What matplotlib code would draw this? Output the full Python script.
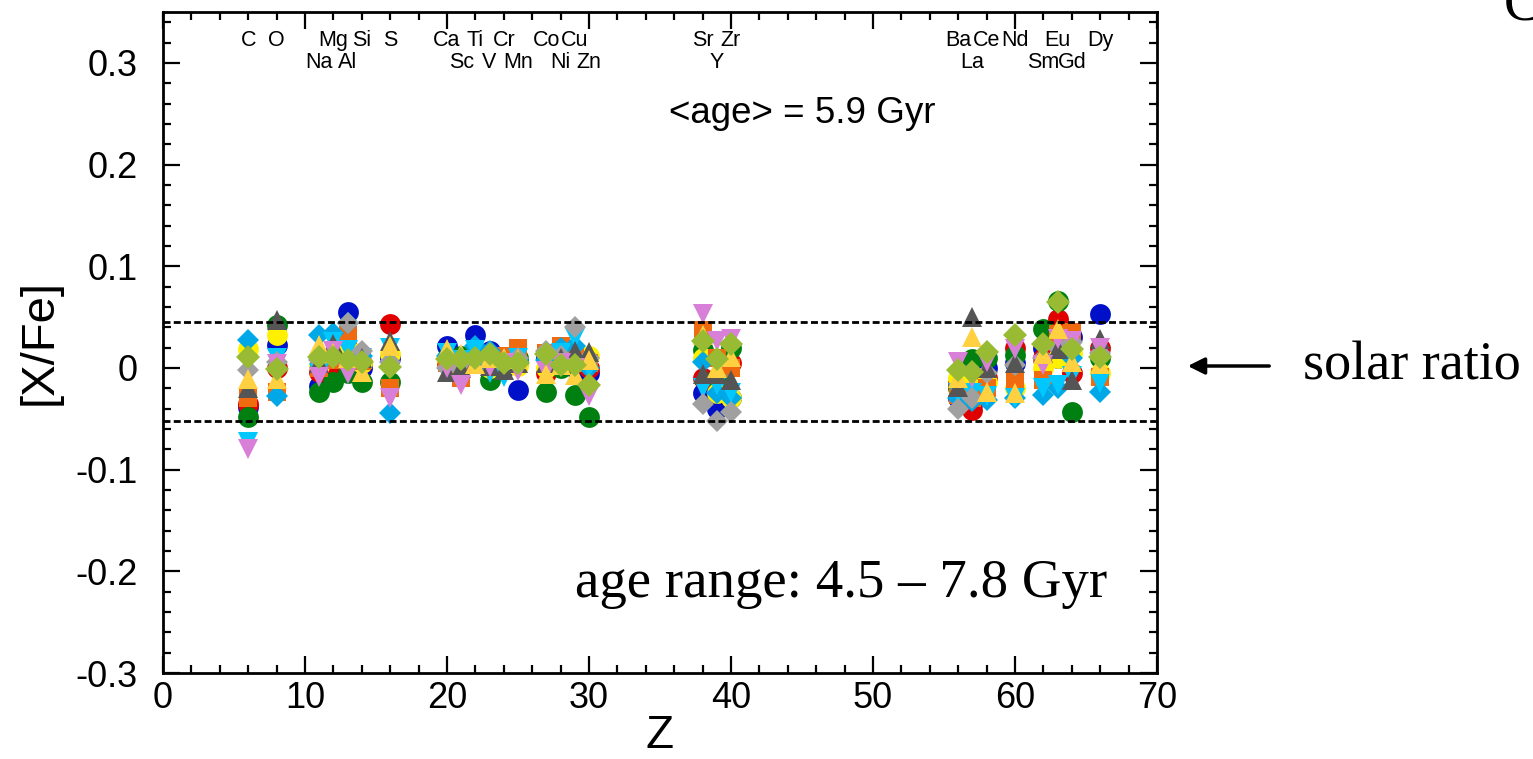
import numpy as np
import matplotlib
matplotlib.use("Agg")
import matplotlib.pyplot as plt
from matplotlib.ticker import MultipleLocator, FuncFormatter

plt.rcParams['font.family'] = ['Liberation Sans', 'DejaVu Sans']
plt.rcParams['axes.unicode_minus'] = False

# Elements and atomic numbers
elements = ['C', 'O', 'Na', 'Mg', 'Al', 'Si', 'S', 'Ca', 'Sc', 'Ti', 'V', 'Cr', 'Mn',
            'Co', 'Ni', 'Cu', 'Zn', 'Sr', 'Y', 'Zr', 'Ba', 'La', 'Ce', 'Nd', 'Sm',
            'Eu', 'Gd', 'Dy']
Z = [6, 8, 11, 12, 13, 14, 16, 20, 21, 22, 23, 24, 25,
     27, 28, 29, 30, 38, 39, 40, 56, 57, 58, 60, 62,
     63, 64, 66]
# labels that sit on the lower row
lower_row = ['Na', 'Al', 'Sc', 'V', 'Mn', 'Ni', 'Zn', 'Y', 'La', 'Sm', 'Gd']

# [X/Fe] per star, same order as elements
blue = [-0.038, 0.023, -0.018, 0.005, 0.055, 0.000, 0.010, 0.022, 0.010, 0.032, 0.017, 0.000, -0.022,
        0.010, 0.005, 0.000, -0.005, -0.025, -0.040, -0.030, -0.030, -0.035, 0.000, 0.005, 0.020,
        0.010, 0.030, 0.053]
red = [-0.035, 0.000, -0.004, 0.002, 0.015, 0.005, 0.043, 0.005, 0.000, 0.010, 0.005, 0.010, 0.005,
       -0.005, 0.010, 0.005, 0.000, -0.010, -0.020, 0.005, -0.015, -0.041, -0.010, 0.020, 0.010,
       0.048, -0.005, 0.020]
green = [-0.048, 0.042, -0.024, -0.014, -0.005, -0.014, -0.014, 0.010, 0.012, 0.015, -0.012, 0.005, 0.010,
         -0.024, 0.000, -0.027, -0.048, 0.018, -0.010, 0.020, -0.020, 0.009, 0.010, 0.013, 0.038,
         0.066, -0.043, 0.010]
yellow = [0.019, 0.032, 0.002, 0.010, 0.020, 0.005, 0.014, 0.008, 0.005, 0.012, 0.000, 0.008, 0.002,
          0.000, 0.008, 0.010, 0.012, 0.010, -0.025, -0.030, -0.010, -0.020, -0.014, -0.020, 0.000,
          0.010, 0.015, -0.005]
orange = [-0.030, -0.024, 0.000, 0.008, 0.032, 0.007, -0.020, 0.005, -0.010, 0.008, 0.010, 0.012, 0.020,
          0.015, 0.022, 0.012, 0.005, 0.037, 0.010, 0.000, -0.027, -0.030, -0.020, -0.012, -0.012,
          0.033, 0.035, -0.009]
sky = [0.027, -0.028, 0.032, 0.034, 0.044, 0.012, -0.044, 0.012, 0.005, 0.022, 0.017, 0.002, 0.008,
       0.008, 0.020, 0.022, 0.000, 0.006, -0.025, -0.030, -0.030, -0.033, -0.032, -0.030, -0.027,
       -0.020, 0.010, -0.024]
cyan = [-0.073, 0.010, -0.005, 0.025, 0.018, 0.010, 0.020, 0.015, 0.008, 0.018, -0.005, -0.009, 0.010,
        0.005, 0.015, 0.029, 0.000, -0.020, -0.017, -0.025, -0.025, -0.025, -0.028, -0.030, -0.020,
        -0.017, -0.008, -0.015]
gray = [-0.002, 0.006, 0.008, 0.012, 0.044, 0.017, 0.006, 0.000, 0.005, 0.010, 0.012, 0.003, 0.010,
        0.017, 0.012, 0.040, 0.010, -0.035, -0.052, -0.043, -0.040, -0.030, -0.005, 0.003, 0.010,
        0.020, 0.025, 0.015]
darkgray = [-0.020, 0.047, 0.005, 0.024, 0.010, 0.010, 0.026, -0.004, 0.000, 0.005, 0.002, -0.002, 0.005,
            0.005, 0.010, 0.017, 0.016, -0.006, -0.006, -0.012, -0.019, 0.050, 0.000, 0.005, 0.015,
            0.019, -0.012, 0.028]
violet = [-0.080, 0.004, -0.009, 0.017, -0.006, 0.000, -0.030, 0.000, -0.017, 0.005, 0.001, 0.005, -0.003,
          -0.003, 0.005, 0.000, -0.028, 0.053, 0.026, 0.028, 0.006, -0.010, 0.006, 0.019, 0.003,
          0.028, 0.026, 0.020]
gold = [-0.011, -0.011, 0.023, 0.015, 0.010, -0.004, 0.022, 0.019, 0.014, 0.004, 0.010, 0.010, 0.009,
        -0.006, 0.003, -0.007, 0.008, 0.032, 0.000, 0.011, -0.010, 0.030, -0.024, -0.025, 0.014,
        0.038, 0.006, 0.004]
olive = [0.011, -0.001, 0.011, 0.011, 0.008, 0.006, 0.001, 0.009, 0.009, 0.010, 0.014, 0.005, 0.005,
         0.014, 0.003, 0.003, -0.017, 0.026, 0.009, 0.024, -0.002, -0.004, 0.016, 0.032, 0.024,
         0.065, 0.019, 0.011]

upper_band = 0.045
lower_band = -0.052

# (values, marker, colour, size) in drawing order
stars = [
    (blue, 'o', '#0010c8', 15),
    (red, 'o', '#e00000', 15),
    (green, 'o', '#008010', 15),
    (yellow, 'o', '#fff000', 15),
    (orange, 's', '#f06a10', 13.5),
    (sky, 'D', '#00a8e8', 11.5),
    (cyan, 'v', '#00c8ff', 14),
    (gray, 'D', '#a0a0a0', 11.5),
    (darkgray, '^', '#555555', 15),
    (violet, 'v', '#d880d8', 15),
    (gold, '^', '#ffd040', 15),
    (olive, 'D', '#99bb33', 12.5),
]

fig = plt.figure(figsize=(15.33, 7.59), dpi=100)
ax = fig.add_axes([0.1063, 0.1133, 0.6484, 0.8709])

for vals, mk, col, ms in stars:
    ax.plot(Z, vals, linestyle='none', marker=mk, color=col, markersize=ms,
            markeredgewidth=0)

ax.axhline(upper_band, color='black', lw=2, ls=(0, (2.5, 1.2)))
ax.axhline(lower_band, color='black', lw=2, ls=(0, (2.5, 1.2)))

ax.set_xlim(0, 70)
ax.set_ylim(-0.3, 0.35)
ax.xaxis.set_major_locator(MultipleLocator(10))
ax.xaxis.set_minor_locator(MultipleLocator(2))
ax.set_yticks(np.arange(-0.3, 0.31, 0.1))
ax.yaxis.set_minor_locator(MultipleLocator(0.02))
ax.yaxis.set_major_formatter(FuncFormatter(lambda v, p: '0' if abs(v) < 1e-9 else f'{v:.1f}'))
ax.tick_params(which='both', direction='in', top=True, right=True, width=1.6)
ax.tick_params(which='major', length=12, labelsize=26)
ax.tick_params(axis='y', which='major', pad=18)
ax.tick_params(axis='x', which='major', pad=6)
ax.tick_params(which='minor', length=6)
for sp in ax.spines.values():
    sp.set_linewidth(2)

ax.set_xlabel('Z', fontsize=33, labelpad=-2)
ax.set_ylabel('[X/Fe]', fontsize=34, labelpad=10)

# element names along the top
for el, z in zip(elements, Z):
    y = 0.3 if el in lower_row else 0.322
    ax.text(z, y, el, ha='center', va='center', fontsize=15.5)

ax.text(45, 0.25, '<age> = 5.9 Gyr', ha='center', va='center', fontsize=26.5)
ax.text(66.5, -0.212, 'age range: 4.5 \u2013 7.8 Gyr', ha='right', va='center',
        fontsize=39.5, family=['Liberation Serif', 'DejaVu Serif'])

fig.text(0.850, 1 - 366 / 759, 'solar ratio', ha='left', va='center', fontsize=39,
         family=['Liberation Serif', 'DejaVu Serif'])
fig.text(0.981, 1 - 20 / 759, 'C', ha='left', va='baseline', fontsize=40,
         family=['Liberation Serif', 'DejaVu Serif'])
ax.annotate('', xy=(1185 / 1533, 1 - 366 / 759), xytext=(1272 / 1533, 1 - 366 / 759),
            xycoords='figure fraction', textcoords='figure fraction',
            arrowprops=dict(arrowstyle='-|>', color='black', lw=2.5, mutation_scale=25))

fig.savefig('out.png', dpi=100)
